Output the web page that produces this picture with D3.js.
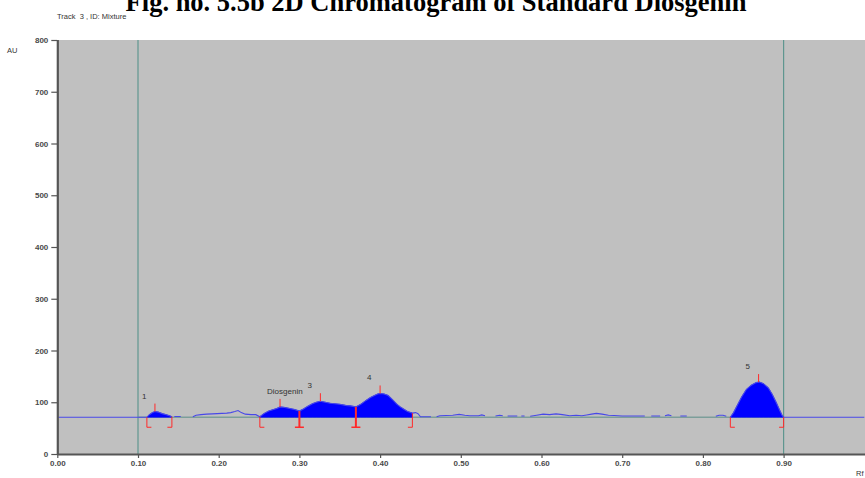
<!DOCTYPE html>
<html><head><meta charset="utf-8">
<script src="https://cdn.jsdelivr.net/npm/d3@7"></script>
<style>html,body{margin:0;padding:0;background:#fff;}svg{display:block;}</style>
</head><body>
<svg id="c" width="865" height="478"></svg>
<script>
// ---- data ----
const title = "Fig. no. 5.5b 2D Chromatogram of Standard Diosgenin";
const subtitle = "Track  3 , ID: Mixture";
const yTicks = [0,100,200,300,400,500,600,700,800];
const xTicks = [0,0.1,0.2,0.3,0.4,0.5,0.6,0.7,0.8,0.9];
const baselineAu = 71;
const markerRf = [0.10, 0.90];
// trace (Rf, AU); null = gap
const traceRf = [0,0.111,0.114,0.118,0.121,0.125,0.130,0.135,0.139,0.142,0.1435,
 0.145,0.153,0.155,
 0.168,0.172,0.178,0.185,0.192,0.198,0.204,0.210,0.215,0.220,0.224,0.228,0.233,0.240,0.246,0.251,
 0.256,0.262,0.268,0.272,0.276,0.282,0.288,0.294,0.300,0.305,0.310,0.316,0.321,0.326,0.332,0.338,0.344,0.350,0.357,0.363,0.370,
 0.376,0.383,0.388,0.393,0.397,0.400,0.405,0.410,0.416,0.421,0.425,0.430,0.434,0.440,0.444,0.447,0.450,0.456,0.463,0.4665,
 0.470,0.474,0.482,0.490,0.498,0.505,0.511,0.518,0.522,0.526,0.530,0.535,
 0.543,0.548,0.552,0.555,
 0.558,0.570,0.572,
 0.575,0.579,0.582,
 0.586,0.594,0.602,0.610,0.618,0.626,0.635,0.643,0.650,0.656,0.662,0.668,0.675,0.683,0.690,0.700,0.715,0.728,0.732,
 0.736,0.747,0.750,
 0.753,0.757,0.761,0.765,
 0.772,0.780,0.800,
 0.816,0.820,0.825,0.829,0.831,
 0.834,0.838,0.843,0.848,0.854,0.860,0.866,0.870,0.875,0.881,0.886,0.891,0.895,0.898,0.900,1.0];
const traceAu = [71,71,76,80,82,81,78,76,74,72,null,
 72.5,72.5,null,
 72,75,76,77,77.5,78,78.5,79,80,82,84,80,77,76,76,72,
 78,83,86,88,91,90,88,86,83,87,92,97,100,102,100,98,97,96,94,93,91,
 96,104,109,113,116,117,116,113,104,96,91,86,82,79,80,78,72,72,72,null,
 72,74,74.5,75,76.5,75,74,74,74,75.5,74,null,
 73.5,75,74,null,
 73.5,73.5,null,
 73.5,73.5,null,
 73,75,77,76,77.5,76,74,75,74,75.5,77,78.5,77,75,74.5,73.5,73.5,73.5,null,
 73.5,73.5,null,
 74,75.5,74,null,
 73.5,73.5,null,
 73,75,75,73,null,
 71,80,95,110,125,133,138,139,136,128,115,99,85,75,71,71];
// filled regions
const fillStart = [0.111, 0.251, 0.834];
const fillEnd   = [0.142, 0.440, 0.900];
// peaks
const peakRf = [0.121, 0.276, 0.326, 0.400, 0.869];
const peakAu = [82, 91, 102, 117, 139];
const peakLabel = ["1", "Diosgenin", "3", "4", "5"];
const peakStart = [0.111, 0.251, 0.300, 0.370, 0.834];
const peakEnd   = [0.142, 0.300, 0.370, 0.440, 0.900];

// ---- drawing ----
const svg = d3.select("#c");
const x = d3.scaleLinear().domain([0, 1.0]).range([57.3, 864.3]);
const y = d3.scaleLinear().domain([0, 800]).range([454, 40]);
const pts = traceRf.map((r,i)=>({r, a: traceAu[i]}));
const auAt = r => { // interpolate trace
  for (let i=1;i<pts.length;i++){
    const p=pts[i-1], q=pts[i];
    if (p.a!=null && q.a!=null && r>=p.r && r<=q.r) return p.a+(q.a-p.a)*(r-p.r)/(q.r-p.r);
  }
  return baselineAu;
};

// title (cut at top, as in the reference)
svg.append("text").attr("x", 436).attr("y", 11).attr("text-anchor","middle")
  .attr("font-family","Liberation Serif, Times New Roman, serif").attr("font-weight","bold")
  .attr("font-size", 26.5).attr("fill","#000").text(title);
svg.append("text").attr("x", 57).attr("y", 19)
  .attr("font-family","Liberation Sans, Arial, sans-serif").attr("font-size", 7.5).attr("fill","#333")
  .attr("xml:space","preserve").style("white-space","pre").text(subtitle);

// plot bg
svg.append("rect").attr("x", x(0)).attr("y", y(800)).attr("width", 865 - x(0)).attr("height", y(0)-y(800)).attr("fill","#c0c0c0");

// vertical marker lines
svg.selectAll(".vm").data(markerRf).join("line")
  .attr("x1", d=>x(d)).attr("x2", d=>x(d)).attr("y1", y(800)).attr("y2", y(0))
  .attr("stroke","#5f968f").attr("stroke-width",1.2);

// integration baseline (green-grey)
svg.append("line").attr("x1", x(0.10)).attr("x2", x(0.90)).attr("y1", y(baselineAu)).attr("y2", y(baselineAu))
  .attr("stroke","#7c9e9a").attr("stroke-width",1.5);

// filled areas
const area = d3.area().defined(d=>d.a!=null).x(d=>x(d.r)).y0(y(baselineAu)).y1(d=>y(d.a));
fillStart.forEach((s,i)=>{
  const seg = pts.filter(p=>p.a!=null && p.r>=s-1e-9 && p.r<=fillEnd[i]+1e-9);
  svg.append("path").datum(seg).attr("d", area).attr("fill","#0000ff").attr("stroke","#0000ff").attr("stroke-width",0.6);
});

// trace line
const line = d3.line().defined(d=>d.a!=null).x(d=>x(d.r)).y(d=>y(d.a));
svg.append("path").datum(pts).attr("d", line).attr("fill","none").attr("stroke","#4848e8").attr("stroke-width",1.1);

// red markers
const red = "#ff2a2a";
const g = svg.append("g");
const yb = y(baselineAu) + 10;
peakRf.forEach((r,i)=>{
  const px = x(r), py = y(peakAu[i]);
  g.append("line").attr("x1",px).attr("x2",px).attr("y1",py).attr("y2",py-8).attr("stroke",red).attr("stroke-width",1);
  svg.append("text").attr("x", px-13).attr("y", py-13)
    .attr("font-family","Liberation Sans, Arial, sans-serif").attr("font-size", 8).attr("fill","#333")
    .text(peakLabel[i]);
});
peakStart.forEach((s,i)=>{
  const isSep = peakEnd.some(e=>Math.abs(e-s)<1e-6);
  const px = x(s);
  if (isSep) {
    g.append("line").attr("x1",px).attr("x2",px).attr("y1",y(auAt(s))).attr("y2",yb).attr("stroke",red).attr("stroke-width",2);
    g.append("line").attr("x1",px-4.5).attr("x2",px+4.5).attr("y1",yb).attr("y2",yb).attr("stroke",red).attr("stroke-width",1.5);
  } else {
    g.append("path").attr("d",`M${px},${y(auAt(s))}V${yb}H${px+4.5}`).attr("fill","none").attr("stroke",red).attr("stroke-width",1);
  }
});
peakEnd.forEach((e,i)=>{
  const isSep = peakStart.some(s=>Math.abs(e-s)<1e-6);
  if (isSep) return;
  const px = x(e);
  g.append("path").attr("d",`M${px},${y(auAt(e))}V${yb}H${px-4.5}`).attr("fill","none").attr("stroke",red).attr("stroke-width",1);
});

// axes
const yAxis = svg.append("g").attr("transform",`translate(${x(0)},0)`)
  .call(d3.axisLeft(y).tickValues(yTicks).tickFormat(d3.format("d")).tickSize(6).tickPadding(3));
const xAxis = svg.append("g").attr("transform",`translate(0,${y(0)})`)
  .call(d3.axisBottom(x).tickValues(xTicks).tickFormat(d3.format(".2f")).tickSize(4).tickPadding(2));
[yAxis, xAxis].forEach(a=>{
  a.select(".domain").attr("stroke","#555").attr("stroke-width",2.2);
  a.selectAll(".tick line").attr("stroke","#555").attr("stroke-width",1.2);
  a.selectAll(".tick text").attr("font-family","Liberation Sans, Arial, sans-serif").attr("font-size",8)
    .attr("font-weight","bold").attr("fill","#4a4a4a");
});
xAxis.select(".domain").attr("d", `M${x(0)},0.5H865`);
yAxis.select(".domain").attr("d", `M0.5,${y(800)}V${y(0)+1}`);

svg.append("text").attr("x", 7).attr("y", 53).attr("font-family","Liberation Sans, Arial, sans-serif")
  .attr("font-size", 7.5).attr("fill","#333").text("AU");
svg.append("text").attr("x", 856).attr("y", 476).attr("font-family","Liberation Sans, Arial, sans-serif")
  .attr("font-size", 7.5).attr("fill","#333").text("Rf");
</script>
</body></html>
